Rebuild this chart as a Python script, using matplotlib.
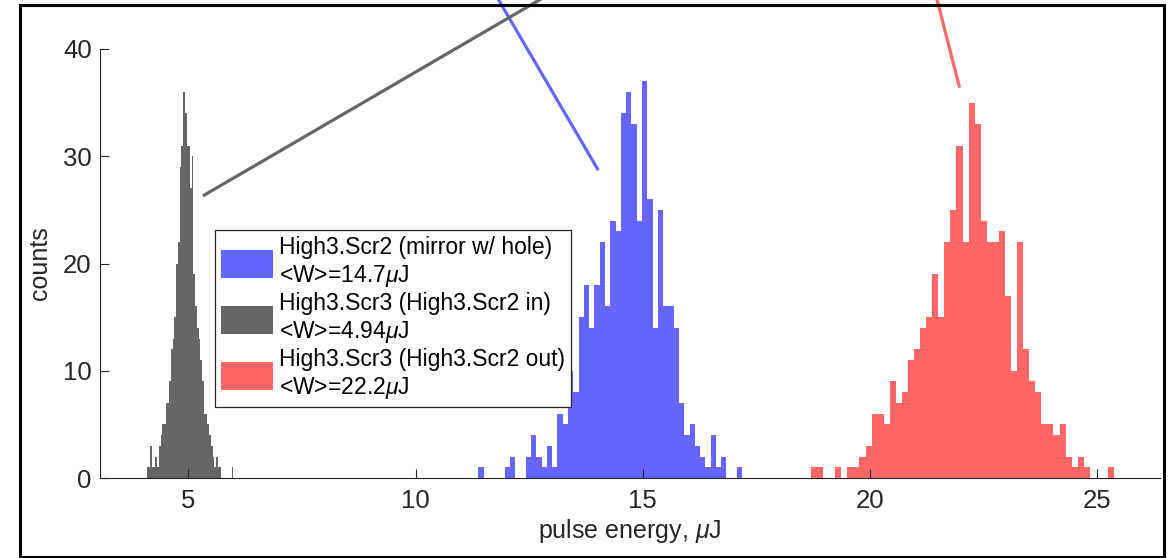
import numpy as np
import matplotlib
matplotlib.use("Agg")
import matplotlib.pyplot as plt
from matplotlib.patches import Rectangle

plt.rcParams['font.family'] = ['Liberation Sans', 'DejaVu Sans']
plt.rcParams['mathtext.fontset'] = 'custom'
plt.rcParams['mathtext.it'] = 'Liberation Sans:italic'
plt.rcParams['mathtext.rm'] = 'Liberation Sans'

# histogram counts (50 bins each, range = data min..max)
blue_counts = [1, 0, 0, 0, 0, 1, 2, 0, 0, 2, 4, 2, 1, 3, 1, 6, 5, 10, 8, 15,
               18, 14, 18, 22, 16, 24, 23, 34, 36, 33, 24, 37, 26, 14, 25, 16, 16, 14, 7, 4,
               5, 3, 2, 1, 4, 1, 2, 0, 0, 1]
blue_range = (11.38, 17.19)

gray_counts = [1, 1, 3, 1, 1, 2, 1, 3, 4, 5, 5, 7, 7, 9, 12, 13, 15, 20, 22, 29,
               31, 36, 34, 31, 31, 27, 30, 19, 16, 14, 13, 11, 9, 6, 6, 5, 4, 3, 2, 1,
               2, 1, 1, 0, 0, 0, 0, 0, 0, 1]
gray_range = (4.085, 5.99)

red_counts = [1, 1, 0, 0, 1, 0, 1, 1, 2, 3, 6, 6, 5, 9, 7, 8, 11, 12, 14, 15,
              19, 15, 22, 25, 31, 22, 35, 33, 24, 22, 22, 23, 17, 10, 22, 12, 9, 8, 5, 5,
              4, 5, 2, 1, 2, 1, 0, 0, 0, 1]
red_range = (18.70, 25.37)

labels = ["High3.Scr2 (mirror w/ hole)\n<W>=14.7$\\mu$J",
          "High3.Scr3 (High3.Scr2 in)\n<W>=4.94$\\mu$J",
          "High3.Scr3 (High3.Scr2 out)\n<W>=22.2$\\mu$J"]
colors = ["#6666ff", "#666666", "#ff6666"]

# pointer lines running off the top of the plot (data units)
pointer_tips = [(14.02, 28.7), (5.32, 26.3), (21.97, 36.4)]
pointer_tails = [(11.70, 45.5), (13.10, 45.5), (21.42, 45.5)]

xticks = [5, 10, 15, 20, 25]
yticks = [0, 10, 20, 30, 40]

W, H = 1173, 558
fig = plt.figure(figsize=(W / 100, H / 100), dpi=100)
ax = fig.add_axes([100 / W, 1 - 478 / H, 1060 / W, 429 / H])

handles = []
for counts, rng, c in zip([blue_counts, gray_counts, red_counts],
                          [blue_range, gray_range, red_range], colors):
    edges = np.linspace(rng[0], rng[1], len(counts) + 1)
    h = ax.stairs(counts, edges, fill=True, color=c, linewidth=0)
    handles.append(h)

for tip, tail, c in zip(pointer_tips, pointer_tails, colors):
    ax.plot([tip[0], tail[0]], [tip[1], tail[1]], color=c, lw=2.3,
            clip_on=False, solid_capstyle='butt')

ax.set_xlim(3.057, 26.38)
ax.set_ylim(0, 40)
ax.set_xticks(xticks)
ax.set_yticks(yticks)
ax.spines['top'].set_visible(False)
ax.spines['right'].set_visible(False)
for s in ['left', 'bottom']:
    ax.spines[s].set_color('#262626')
    ax.spines[s].set_linewidth(0.8)
ax.tick_params(direction='in', length=6.5, width=0.8, color='#262626',
               labelsize=18.5, labelcolor='#262626')
ax.tick_params(axis='x', pad=8)
ax.tick_params(axis='y', pad=6)
ax.set_xlabel("pulse energy, $\\mu$J", fontsize=18, color='#262626', labelpad=3)
ax.set_ylabel("counts", fontsize=18, color='#262626', labelpad=8)

leg = ax.legend(handles, labels, loc='upper left',
                bbox_to_anchor=(215 / W, 1 - 230 / H), bbox_transform=fig.transFigure,
                fontsize=16.5, fancybox=False, framealpha=1, edgecolor='#262626',
                borderpad=0.25, handlelength=2.3, handleheight=1.5,
                handletextpad=0.25, labelspacing=0.15, borderaxespad=0)
leg.get_frame().set_linewidth(0.9)

fig.add_artist(Rectangle((20 / W, 1 / H), 1144 / W, 552 / H, transform=fig.transFigure,
                         fill=False, edgecolor='black', lw=2.2))

fig.savefig("out.png", dpi=100)
